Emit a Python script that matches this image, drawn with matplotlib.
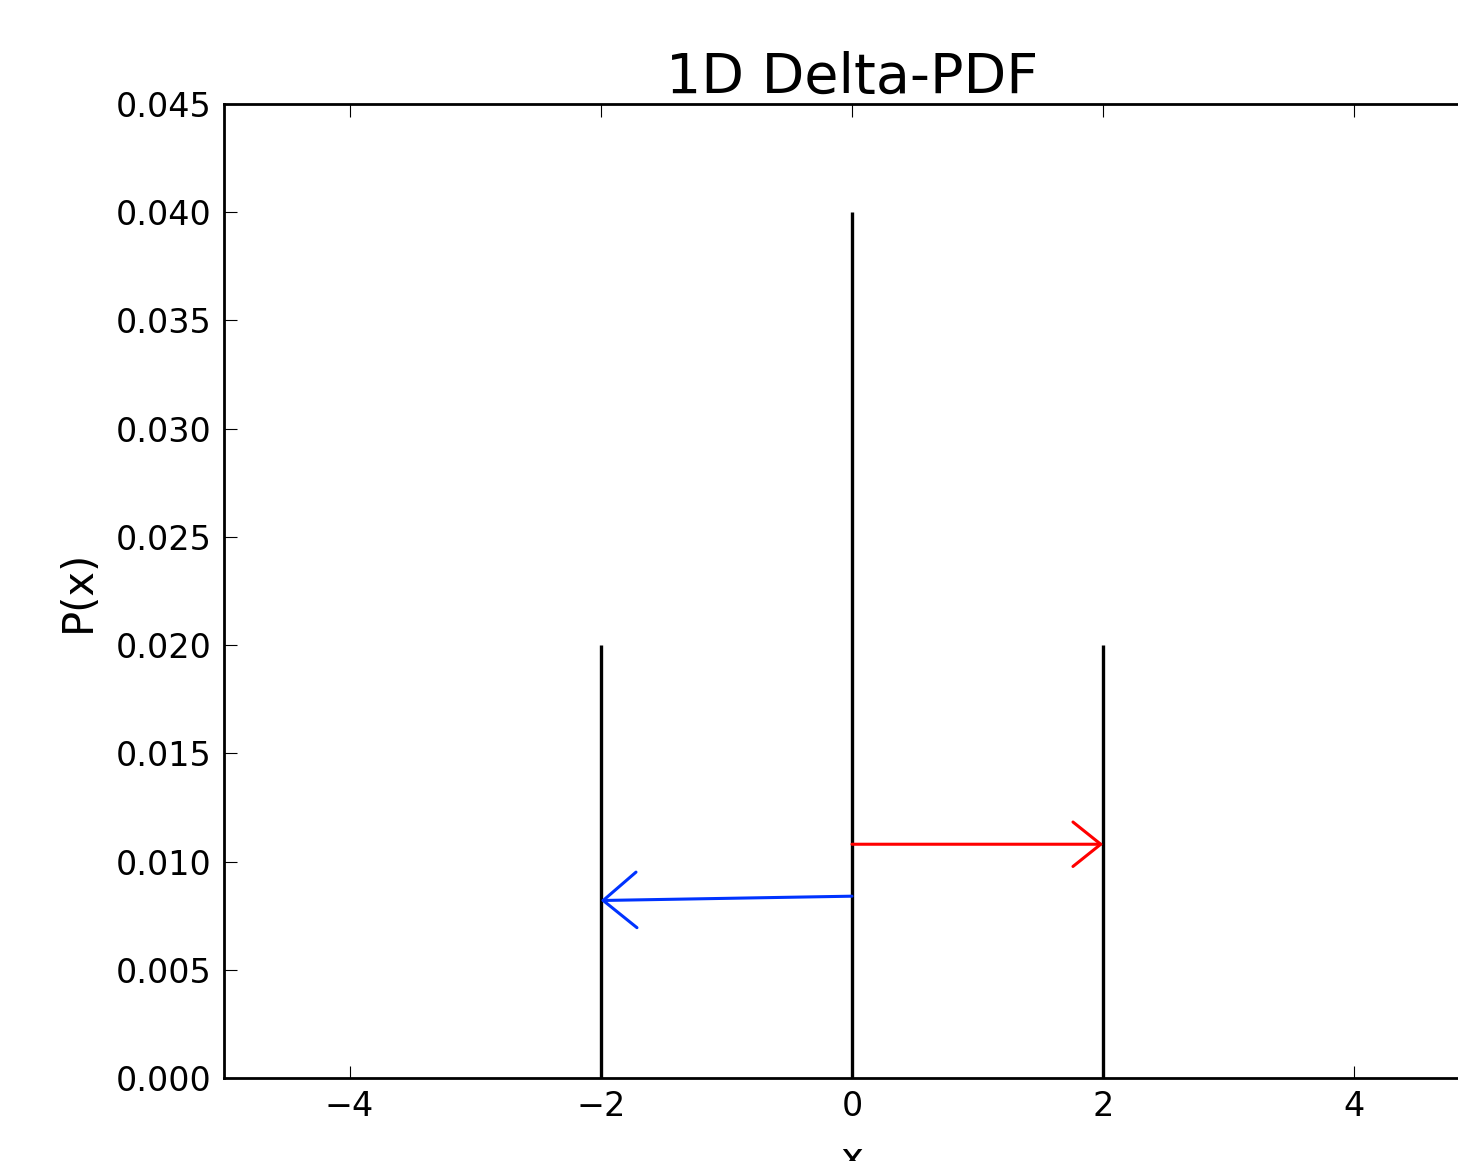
import matplotlib
matplotlib.use("Agg")
import matplotlib.pyplot as plt

# delta positions and weights
delta_x = [-2, 0, 2]
delta_p = [0.02, 0.04, 0.02]

# arrows: (start, end) in data coords
red_start = (0, 0.0108)
red_end = (2, 0.0108)
blue_start = (0, 0.0084)
blue_end = (-2, 0.0082)

xticks = [-4, -2, 0, 2, 4]
yticks = [0.000, 0.005, 0.010, 0.015, 0.020, 0.025, 0.030, 0.035, 0.040, 0.045]

fig = plt.figure(figsize=(14.58, 11.61), dpi=100)
ax = fig.add_axes([0.1536, 0.0715, 0.8615, 0.8389])

ax.vlines(delta_x, 0, delta_p, color='black', linewidth=2.4)

ax.annotate('', xy=red_end, xytext=red_start,
            arrowprops=dict(arrowstyle='->, head_length=1.0, head_width=0.8',
                            color='#ff0000', lw=2.2, mutation_scale=20,
                            shrinkA=0, shrinkB=0))
ax.annotate('', xy=blue_end, xytext=blue_start,
            arrowprops=dict(arrowstyle='->, head_length=1.2, head_width=1.0',
                            color='#0033ff', lw=2.2, mutation_scale=20,
                            shrinkA=0, shrinkB=0))

ax.set_xlim(-5, 5)
ax.set_ylim(0, 0.045)
ax.set_xticks(xticks)
ax.set_yticks(yticks)
ax.set_yticklabels(['%.3f' % v for v in yticks])
ax.set_xticklabels(['\u2212%d' % -v if v < 0 else '%d' % v for v in xticks])
ax.tick_params(direction='in', length=9, width=0.8, labelsize=24, pad=9,
               top=True, right=True)
for s in ax.spines.values():
    s.set_linewidth(2)

ax.set_title('1D Delta-PDF', fontsize=40, pad=8)
ax.set_xlabel('x', fontsize=28, labelpad=12)
ax.set_ylabel('P(x)', fontsize=30, labelpad=12)

fig.savefig('out.png', dpi=100)
